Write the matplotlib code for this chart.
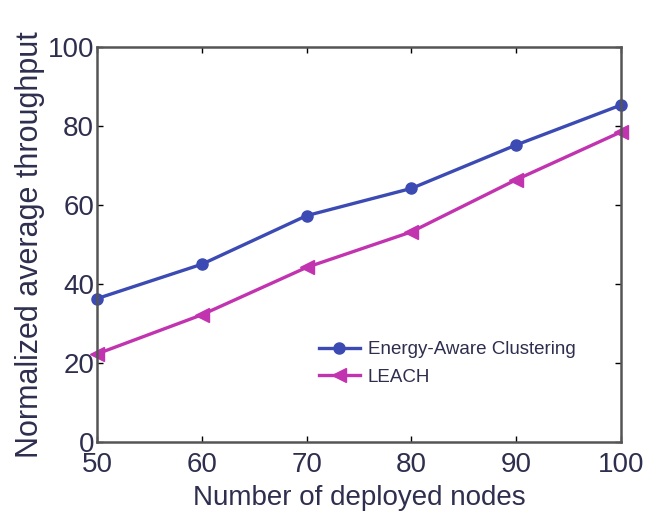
import matplotlib
matplotlib.use("Agg")
import matplotlib.pyplot as plt

plt.rcParams['font.family'] = ['Liberation Sans', 'DejaVu Sans']

nodes = [50, 60, 70, 80, 90, 100]
energy_aware = [36.3, 45.0, 57.3, 64.2, 75.2, 85.3]
leach = [22.3, 32.2, 44.2, 53.2, 66.4, 78.5]

blue = "#3b4bb3"
magenta = "#c233b0"
txt = "#2e2e4e"

fig = plt.figure(figsize=(6.66, 5.21), dpi=100)
ax = fig.add_axes([0.1456, 0.1516, 0.7868, 0.7582])

ax.plot(nodes, energy_aware, color=blue, lw=2.4, marker='o', ms=8,
        label="Energy-Aware Clustering")
ax.plot(nodes, leach, color=magenta, lw=2.4, marker='<', ms=10,
        label="LEACH")

ax.set_xlim(50, 100)
ax.set_ylim(0, 100)
ax.set_xticks(nodes)
ax.set_yticks([0, 20, 40, 60, 80, 100])
ax.tick_params(direction='in', length=4, width=1, labelsize=20,
               top=True, right=True, labelcolor=txt)
ax.tick_params(axis='x', pad=7)
ax.tick_params(axis='y', pad=2)
for sp in ax.spines.values():
    sp.set_linewidth(1.8)
    sp.set_color("#555555")
for p in ax.get_lines():
    p.set_clip_on(False)

ax.set_xlabel("Number of deployed nodes", fontsize=20, color=txt, labelpad=5)
ax.set_ylabel("Normalized average throughput", fontsize=22, color=txt, labelpad=2)

ax.legend(loc='lower right', bbox_to_anchor=(0.945, 0.1), frameon=False,
          fontsize=13.5, handlelength=2.2, handletextpad=0.4, labelspacing=0.55,
          labelcolor=txt)

fig.savefig("out.png", dpi=100)
